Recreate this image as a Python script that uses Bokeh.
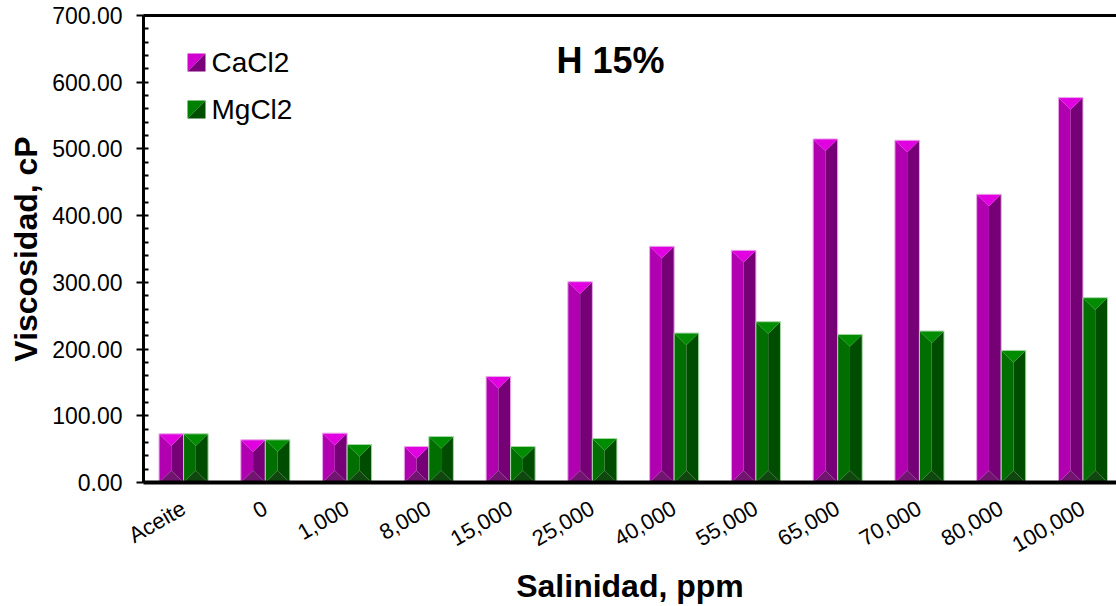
from bokeh.plotting import figure
from bokeh.models import (Range1d, LinearAxis, FixedTicker, NumeralTickFormatter,
                          Label, PolyAnnotation)
from bokeh.embed import file_html
from bokeh.resources import INLINE

# ---------------- data ----------------
categories = ["Aceite", "0", "1,000", "8,000", "15,000", "25,000", "40,000",
              "55,000", "65,000", "70,000", "80,000", "100,000"]
cacl2 = [73, 64, 74, 54, 159, 301, 354, 348, 515, 513, 432, 577]
mgcl2 = [73, 64, 57, 69, 54, 66, 224, 241, 222, 227, 198, 277]
series_names = ["CaCl2", "MgCl2"]
y_ticks = [0, 100, 200, 300, 400, 500, 600, 700]
y_minor = list(range(0, 701, 20))
chart_title = "H 15%"
x_title = "Salinidad, ppm"
y_title = "Viscosidad, cP"

FONT = "Liberation Sans"

# ---------------- figure ----------------
p = figure(width=1116, height=606, output_backend="svg", toolbar_location=None,
           x_range=Range1d(-0.49, 11.41), y_range=Range1d(0, 700),
           min_border_left=143, min_border_right=0, min_border_top=15,
           min_border_bottom=124)
p.outline_line_color = None
p.background_fill_color = "white"
p.border_fill_color = "white"
p.xgrid.visible = False
p.ygrid.visible = False

BAR_W = 0.3
DEPTH = 18.0  # bevel depth in value units


def bevel(centers, values):
    tops_x, tops_y, left_x, left_y, right_x, right_y, bot_x, bot_y = ([] for _ in range(8))
    for c, v in zip(centers, values):
        l, r, m = c - BAR_W / 2, c + BAR_W / 2, c
        d = min(DEPTH, v / 2.0)
        tops_x.append([l, r, m]); tops_y.append([v, v, v - d])
        left_x.append([l, l, m, m]); left_y.append([0, v, v - d, d])
        right_x.append([r, r, m, m]); right_y.append([0, v, v - d, d])
        bot_x.append([l, r, m]); bot_y.append([0, 0, d])
    return (tops_x, tops_y), (left_x, left_y), (right_x, right_y), (bot_x, bot_y)


styles = {
    "CaCl2": dict(top="#E000E0", left="#B000B0", right="#760076", bottom="#711571",
                  edge="#E8A8E8", off=-0.15, vals=cacl2),
    "MgCl2": dict(top="#008C00", left="#006E00", right="#004C00", bottom="#0F470F",
                  edge="#A6D6A6", off=0.15, vals=mgcl2),
}

for name in series_names:
    s = styles[name]
    centers = [i + s["off"] for i in range(len(categories))]
    top, left, right, bot = bevel(centers, s["vals"])
    p.patches(xs=left[0], ys=left[1], fill_color=s["left"], line_color=None)
    p.patches(xs=right[0], ys=right[1], fill_color=s["right"], line_color=None)
    p.patches(xs=top[0], ys=top[1], fill_color=s["top"], line_color=None)
    p.patches(xs=bot[0], ys=bot[1], fill_color=s["bottom"], line_color=None)
    p.vbar(x=centers, top=s["vals"], width=BAR_W, bottom=0, fill_color=None,
           line_color=s["edge"], line_width=1)

# ---------------- axes ----------------
xa = p.xaxis[0]
xa.ticker = FixedTicker(ticks=list(range(len(categories))))
xa.major_label_overrides = {i: c for i, c in enumerate(categories)}
xa.major_label_orientation = 0.5236
xa.major_tick_line_color = None
xa.minor_tick_line_color = None
xa.axis_line_width = 4
xa.axis_line_color = "black"
xa.major_label_text_font = FONT
xa.major_label_text_font_size = "22px"
xa.major_label_text_color = "black"
xa.major_label_standoff = 18
xa.axis_label = x_title
xa.axis_label_text_font = FONT
xa.axis_label_text_font_size = "32px"
xa.axis_label_text_font_style = "bold"
xa.axis_label_text_color = "black"
xa.axis_label_standoff = -3

ya = p.yaxis[0]
ya.ticker = FixedTicker(ticks=y_ticks, minor_ticks=y_minor)
ya.formatter = NumeralTickFormatter(format="0.00")
ya.axis_line_width = 3
ya.axis_line_color = "black"
ya.major_tick_line_width = 2
ya.major_tick_line_color = "black"
ya.major_tick_out = 7
ya.major_tick_in = 0
ya.minor_tick_line_width = 2
ya.minor_tick_line_color = "black"
ya.minor_tick_in = 5
ya.minor_tick_out = 0
ya.major_label_text_font = FONT
ya.major_label_text_font_size = "23px"
ya.major_label_text_color = "black"
ya.major_label_standoff = 14
ya.axis_label = y_title
ya.axis_label_text_font = FONT
ya.axis_label_text_font_size = "32px"
ya.axis_label_text_font_style = "bold"
ya.axis_label_text_color = "black"
ya.axis_label_standoff = 5

top_axis = LinearAxis(major_tick_line_color=None, minor_tick_line_color=None,
                      major_label_text_font_size="0px", axis_line_width=3,
                      axis_line_color="black", ticker=FixedTicker(ticks=[]))
p.add_layout(top_axis, "above")

# ---------------- title & legend ----------------
p.add_layout(Label(x=467, y=422, x_units="screen", y_units="screen", text=chart_title,
                   text_font=FONT, text_font_size="36px", text_font_style="bold",
                   text_align="center", text_baseline="middle", text_color="black"))

legend_colors = {"CaCl2": ("#D000D0", "#7A007A"), "MgCl2": ("#008000", "#004F00")}
row_y = {"CaCl2": 420, "MgCl2": 373}
for name in series_names:
    light, dark = legend_colors[name]
    cy = row_y[name]
    x0, x1, y0, y1 = 44, 62, cy - 9, cy + 9
    p.add_layout(PolyAnnotation(xs=[x0, x1, x0], ys=[y0, y1, y1], xs_units="screen",
                                ys_units="screen", fill_color=light, fill_alpha=1,
                                line_color=None))
    p.add_layout(PolyAnnotation(xs=[x0, x1, x1], ys=[y0, y1, y0], xs_units="screen",
                                ys_units="screen", fill_color=dark, fill_alpha=1,
                                line_color=None))
    p.add_layout(Label(x=68, y=cy, x_units="screen", y_units="screen", text=name,
                       text_font=FONT, text_font_size="28px", text_align="left",
                       text_baseline="middle", text_color="black"))

open("out.html", "w").write(file_html(p, INLINE))
